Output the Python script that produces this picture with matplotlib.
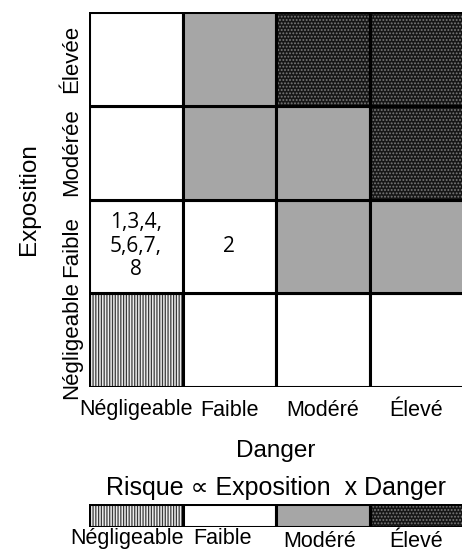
import matplotlib
matplotlib.use("Agg")
import matplotlib.pyplot as plt
from matplotlib.patches import Rectangle

# niveaux
exposition = ["Négligeable", "Faible", "Modérée", "Élevée"]
danger = ["Négligeable", "Faible", "Modéré", "Élevé"]
risque = ["Négligeable", "Faible", "Modéré", "Élevé"]

# niveau de risque par case (lignes = exposition, du bas vers le haut)
matrice = [
    [0, 1, 1, 1],
    [1, 1, 2, 2],
    [1, 2, 2, 3],
    [1, 2, 3, 3],
]
# substances placées dans les cases (ligne, colonne)
etiquettes = {(1, 0): "1,3,4,\n5,6,7,\n8", (1, 1): "2"}

# style de chaque niveau de risque: (fond, hachure, couleur hachure)
styles = [
    ("#ececec", "||||||", "#3a3a3a"),
    ("white", None, "white"),
    ("#a6a6a6", None, "#a6a6a6"),
    ("#161616", ".....", "#7a7a7a"),
]

plt.rcParams["font.family"] = ["Liberation Sans", "DejaVu Sans"]
plt.rcParams["hatch.linewidth"] = 0.9

W, H = 462, 552
fig = plt.figure(figsize=(W / 100, H / 100), dpi=100)


def case(ax, x, y, niveau):
    fond, hachure, hc = styles[niveau]
    ax.add_patch(Rectangle((x, y), 1, 1, facecolor=fond, hatch=hachure,
                           edgecolor=hc, linewidth=0))
    ax.add_patch(Rectangle((x, y), 1, 1, fill=False, edgecolor="black",
                           linewidth=2.2))


ax = fig.add_axes([89 / W, (H - 387) / H, (463 - 89) / W, (387 - 12) / H])
for i in range(len(exposition)):
    for j in range(len(danger)):
        case(ax, j, i, matrice[i][j])
for (i, j), txt in etiquettes.items():
    ax.text(j + 0.5, i + 0.5, txt, ha="center", va="center", fontsize=15,
            family=["Open Sans", "DejaVu Sans"], linespacing=1.15)

ax.set_xlim(0, len(danger))
ax.set_ylim(0, len(exposition))
ax.set_xticks([k + 0.5 for k in range(len(danger))])
ax.set_xticklabels(danger, fontsize=15.5)
ax.set_yticks([k + 0.5 for k in range(len(exposition))])
ax.set_yticklabels(exposition, fontsize=16, rotation=90, va="center")
ax.tick_params(axis="x", length=0, pad=9)
ax.tick_params(axis="y", length=0, pad=5)
for s in ax.spines.values():
    s.set_visible(False)
ax.set_ylabel("Exposition", fontsize=17.5, labelpad=15)

fig.text(276 / W, 1 - 457 / H, "Danger", ha="center", va="baseline",
         fontsize=17.5)
fig.text(276 / W, 1 - 495 / H, "Risque \u221d Exposition  x Danger",
         ha="center", va="baseline", fontsize=18)

# barre de légende
lg = fig.add_axes([89 / W, (H - 527) / H, (463 - 89) / W, 23 / H])
for k in range(len(risque)):
    case(lg, k, 0, k)
lg.set_xlim(0, len(risque))
lg.set_ylim(0, 1)
lg.set_xticks([])
lg.set_yticks([])
for s in lg.spines.values():
    s.set_visible(False)
decal = [(-6, -1), (-5, -1), (-2, -3), (0, -3)]
for k, nom in enumerate(risque):
    lg.annotate(nom, (k + 0.5, 0), xycoords=lg.get_xaxis_transform(),
                xytext=decal[k], textcoords="offset points",
                ha="center", va="top", fontsize=15.5)

fig.savefig("out.png", dpi=100)
